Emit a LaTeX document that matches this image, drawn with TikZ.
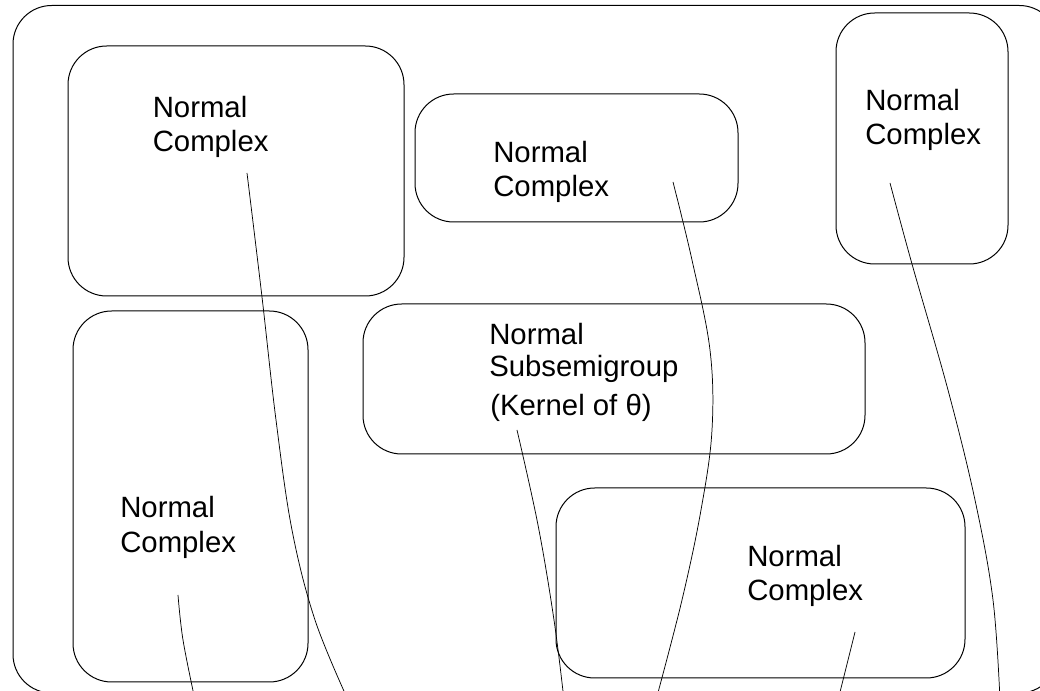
\documentclass[tikz,border=0pt]{standalone}
\usepackage{fontspec}
\setmainfont{Liberation Sans}
\usetikzlibrary{fit}
\begin{document}
\begin{tikzpicture}[x=0.75pt, y=-0.75pt,
  panel/.style={draw, rounded corners=29pt, line width=0.75pt, inner sep=0pt},
  lbl/.style={anchor=base west, inner sep=0pt, font=\fontsize{22}{26}\selectfont},
  wire/.style={line width=0.55pt}]
  \useasboundingbox (0,0) rectangle (1040,691);
  \clip (0,0) rectangle (1040,691);

  % outer frame and the six regions
  \node[panel, fit={(13,5.5) (1058,693)}] (frame) {};
  \node[panel, fit={(68,46) (404,296)}] (b1) {};
  \node[panel, fit={(73,311) (308,682)}] (b2) {};
  \node[panel, fit={(415,94) (738,222)}] (b3) {};
  \node[panel, fit={(836,13) (1008,264)}] (b4) {};
  \node[panel, fit={(363,304) (865,454)}] (b5) {};
  \node[panel, fit={(556,488) (965,678)}] (b6) {};

  % labels
  \node[lbl] (t1a) at (152.5,118) {Normal};
  \node[lbl] (t1b) at (152.5,152) {Complex};
  \node[lbl] (t3a) at (493,163) {Normal};
  \node[lbl] (t3b) at (493,197) {Complex};
  \node[lbl] (t4a) at (865,111) {Normal};
  \node[lbl] (t4b) at (865,145) {Complex};
  \node[lbl] (t2a) at (120,518) {Normal};
  \node[lbl] (t2b) at (120,553) {Complex};
  \node[lbl] (t6a) at (747,567) {Normal};
  \node[lbl] (t6b) at (747,601) {Complex};
  \node[lbl] (t5a) at (489,345) {Normal};
  \node[lbl] (t5b) at (489,377) {Subsemigroup};
  \node[lbl] (t5c) at (490,416) {(Kernel of θ)};

  % start and end points of the curves
  \coordinate (s1) at (247,173);
  \coordinate (e1) at (348,700);
  \coordinate (s2) at (178,595);
  \coordinate (e2) at (195,700);
  \coordinate (s3) at (673,182);
  \coordinate (e3) at (656,700);
  \coordinate (s4) at (517,430);
  \coordinate (e4) at (564,700);
  \coordinate (s5) at (855,632);
  \coordinate (e5) at (838,700);
  \coordinate (s6) at (890,183);
  \coordinate (e6) at (1000,700);

  % curves running down to the bottom edge
  \draw[wire] plot[smooth, tension=0.6] coordinates {(s1) (262,297) (276,420) (292,530) (315,620) (e1)};
  \draw[wire] plot[smooth, tension=0.6] coordinates {(s2) (183,640) (e2)};
  \draw[wire] plot[smooth, tension=0.6] coordinates {(s3) (692,260) (710,350) (712,430) (701,510) (682,600) (e3)};
  \draw[wire] plot[smooth, tension=0.6] coordinates {(s4) (538,525) (554,620) (e4)};
  \draw[wire] (s5) -- (e5);
  \draw[wire] plot[smooth, tension=0.6] coordinates {(s6) (912,264) (948,390) (975,500) (993,600) (e6)};
\end{tikzpicture}
\end{document}
